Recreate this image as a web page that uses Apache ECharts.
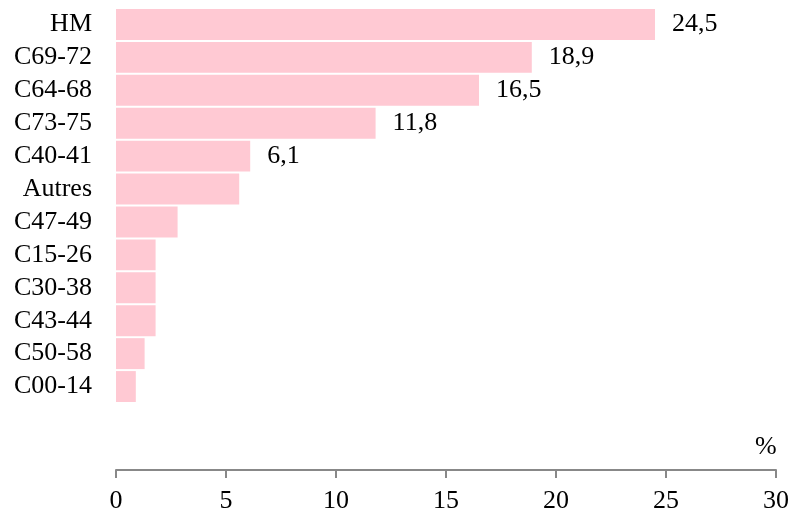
<!DOCTYPE html>
<html><head><meta charset="utf-8">
<script src="https://cdn.jsdelivr.net/npm/echarts@6/dist/echarts.min.js"></script>
<style>html,body{margin:0;padding:0;background:#fff}#c{width:792px;height:515px}</style>
</head><body><div id="c"></div>
<script>
const categories = ['HM','C69-72','C64-68','C73-75','C40-41','Autres','C47-49','C15-26','C30-38','C43-44','C50-58','C00-14'];
const values = [24.5, 18.9, 16.5, 11.8, 6.1, 5.6, 2.8, 1.8, 1.8, 1.8, 1.3, 0.9];
const showLabel = [true, true, true, true, true, false, false, false, false, false, false, false];
const xTicks = [0, 5, 10, 15, 20, 25, 30];
const unitLabel = '%';

const font = 'Liberation Serif, Times New Roman, serif';
const chart = echarts.init(document.getElementById('c'));
chart.setOption({
  animation: false,
  grid: {left: 116, right: 16, top: 8, bottom: 112, containLabel: false},
  xAxis: {
    type: 'value', min: xTicks[0], max: xTicks[xTicks.length-1], interval: xTicks[1]-xTicks[0],
    offset: 67,
    axisLine: {show: true, lineStyle: {color: '#888888', width: 2}},
    axisTick: {show: true, length: 8, lineStyle: {color: '#888888', width: 2}},
    splitLine: {show: false},
    axisLabel: {color: '#000', fontFamily: font, fontSize: 26, margin: 18}
  },
  yAxis: {
    type: 'category', data: categories, inverse: true,
    axisLine: {show: false}, axisTick: {show: false},
    axisLabel: {color: '#000', fontFamily: font, fontSize: 26, margin: 24, align: 'right', interval: 0}
  },
  graphic: [{type: 'text', left: 755, top: 434, style: {text: unitLabel, fontFamily: font, fontSize: 26, fill: '#000'}}],
  series: [{
    type: 'bar', barCategoryGap: '6%',
    itemStyle: {color: '#FFC9D3'},
    data: values.map((v, i) => ({value: v, label: {show: showLabel[i]}})),
    label: {position: 'right', distance: 17, color: '#000', fontFamily: font, fontSize: 26,
      formatter: p => String(p.value).replace('.', ',')}
  }]
});
</script></body></html>
